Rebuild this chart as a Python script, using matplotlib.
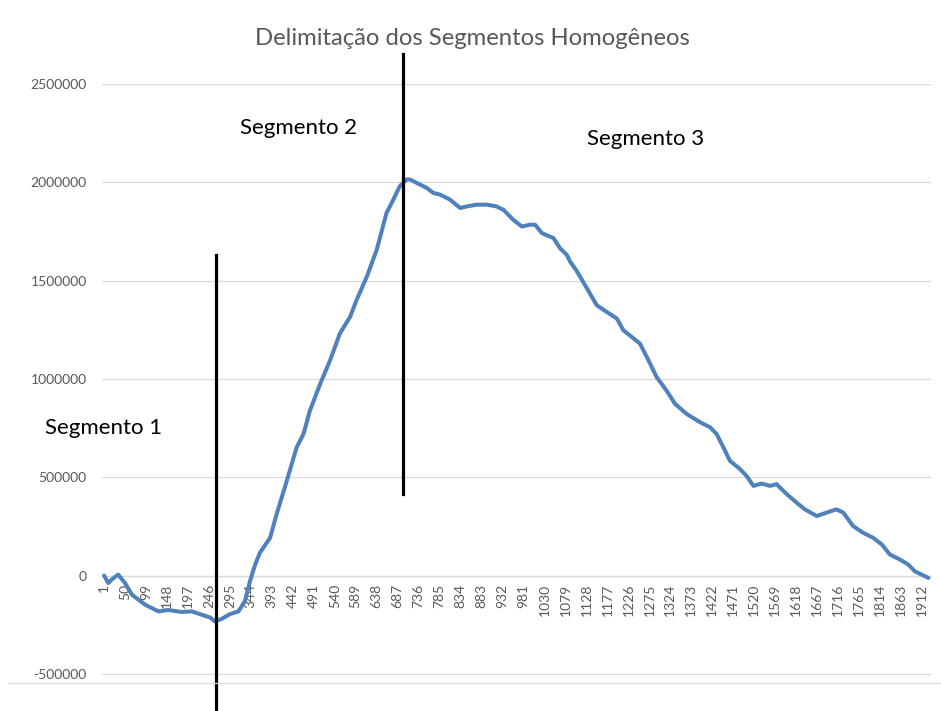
import matplotlib.pyplot as plt
from matplotlib.lines import Line2D
import numpy as np

plt.rcParams['font.family'] = ['Lato', 'DejaVu Sans']

# values (index, cumulative value)
obs = [1, 11, 19, 34, 50, 66, 97, 128, 151, 183, 206, 229, 249, 260, 276, 295,
       315, 330, 342, 354, 365, 373, 389, 404, 428, 451, 467, 482, 506, 529, 552,
       576, 591, 615, 638, 661, 677, 692, 708, 716, 731, 755, 770, 786, 809, 833,
       848, 872, 895, 918, 934, 957, 977, 996, 1008, 1024, 1051, 1066, 1082, 1090,
       1105, 1129, 1152, 1175, 1199, 1214, 1234, 1253, 1273, 1292, 1315, 1335,
       1362, 1394, 1417, 1432, 1448, 1463, 1487, 1502, 1518, 1537, 1557, 1572,
       1596, 1619, 1638, 1666, 1689, 1712, 1728, 1751, 1774, 1798, 1818, 1837,
       1860, 1880, 1895, 1911, 1927]
vals = [0, -38000, -20000, 5000, -38000, -97000, -148000, -182000, -175000,
        -185000, -182000, -199000, -213000, -233000, -220000, -196000, -182000,
        -131000, -29000, 56000, 115000, 141000, 192000, 311000, 482000, 652000,
        720000, 839000, 975000, 1094000, 1231000, 1316000, 1401000, 1520000,
        1656000, 1844000, 1912000, 1980000, 2014000, 2014000, 1997000, 1971000,
        1946000, 1937000, 1912000, 1869000, 1877000, 1886000, 1886000, 1877000,
        1860000, 1809000, 1775000, 1784000, 1784000, 1741000, 1716000, 1665000,
        1631000, 1596000, 1550000, 1461000, 1375000, 1341000, 1307000, 1248000,
        1213000, 1180000, 1094000, 1009000, 941000, 873000, 822000, 779000,
        754000, 720000, 652000, 584000, 541000, 507000, 456000, 468000, 456000,
        465000, 414000, 371000, 337000, 303000, 320000, 337000, 320000, 252000,
        218000, 192000, 158000, 107000, 82000, 56000, 22000, 5000, -12000]

xticks = list(range(1, 1913, 49))
yticks = [-500000, 0, 500000, 1000000, 1500000, 2000000, 2500000]

# segment boundaries (index) and segment labels
cuts = [261.5, 700]
seg_names = ['Segmento 1', 'Segmento 2', 'Segmento 3']
seg_pos = [(1, 752000), (456, 2274000), (1267, 2218000)]

fig = plt.figure(figsize=(9.41, 7.11), dpi=100)
ax = fig.add_axes([0.1084, 0.048, 0.881, 0.834])

ax.plot(obs, vals, color='#4F81BD', linewidth=2.9, solid_capstyle='round', zorder=3)

ax.set_xlim(-3.7, 1933)
ax.set_ylim(-515000, 2500000)

ax.grid(True, axis='y', color='#D9D9D9', linewidth=0.9)
ax.set_axisbelow(True)
for s in ['top', 'right', 'left']:
    ax.spines[s].set_visible(False)
ax.spines['bottom'].set_position(('data', 0))
ax.spines['bottom'].set_color('#D9D9D9')
ax.spines['bottom'].set_linewidth(0.9)

ax.set_yticks(yticks)
ax.set_yticklabels([str(v) for v in yticks])
ax.set_xticks(xticks)
ax.set_xticklabels([str(v) for v in xticks])
ax.tick_params(axis='both', length=0, colors='#595959', labelsize=10)
ax.tick_params(axis='y', pad=11)
ax.tick_params(axis='x', pad=6, labelrotation=90)

# drawn boundary lines
ax.plot([cuts[0], cuts[0]], [1630000, -760000], color='black', linewidth=2.3,
        clip_on=False, zorder=4)
ax.plot([cuts[1], cuts[1]], [2652000, 415000], color='black', linewidth=2.3,
        clip_on=False, zorder=4)

for name, (px, py) in zip(seg_names, seg_pos):
    ax.text(px, py, name, fontsize=16, color='black', ha='center', va='center')

fig.text(0.502, 0.946, 'Delimitação dos Segmentos Homogêneos', fontsize=17.2,
         color='#595959', ha='center', va='center')

fig.add_artist(Line2D([9 / 941, 1], [1 - 683 / 711] * 2, color='#D9D9D9',
                      linewidth=0.9))

plt.savefig('out.png', dpi=100)
